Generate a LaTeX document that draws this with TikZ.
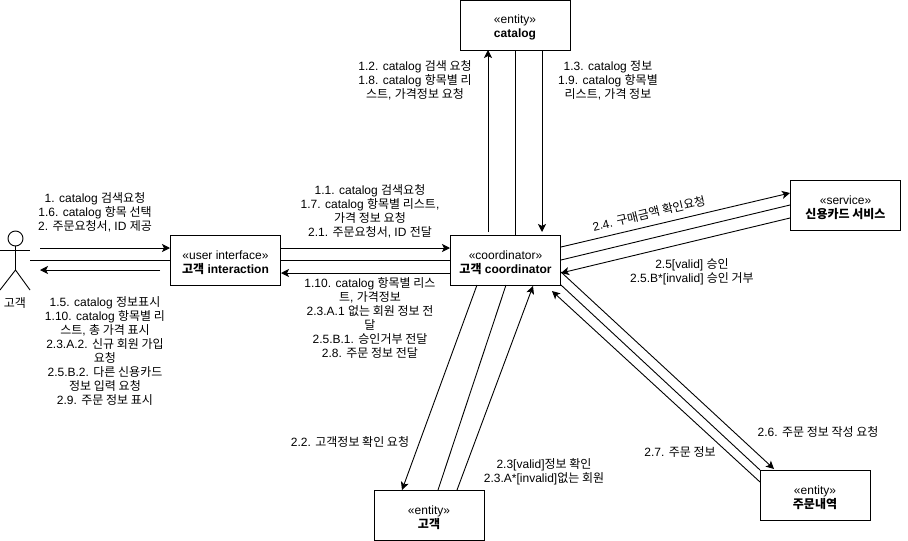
\documentclass[tikz,border=0pt]{standalone}
\usepackage{fontspec}
\setmainfont{Liberation Sans}
\newfontfamily\cjk{Noto Sans CJK KR}
\newcommand{\kr}[1]{{\cjk #1}}
\newcommand{\stereo}[1]{\rule{0pt}{14pt}«#1»}
\usetikzlibrary{arrows.meta}
\tikzset{
	box/.style={draw,minimum width=110pt,minimum height=50pt,inner sep=0pt,outer sep=0pt,align=center,font=\fontsize{12}{14}\selectfont},
	msg/.style={align=center,inner sep=0pt,yshift=-1.5pt,font=\fontsize{12}{14}\selectfont},
	call/.style={-{Stealth[length=8pt,width=8pt,inset=2pt]}},
}

\begin{document}
\begin{tikzpicture}[x=1pt,y=-1pt,line width=.9pt]
	\useasboundingbox (0,0) rectangle (908,541);
	% boxes
	\node [box] (catalog) at (515,25) {\stereo{entity}\\\textbf{catalog}};
	\node [box] (ui) at (225.5,260) {\stereo{user interface}\\\textbf{\kr{고객} interaction}};
	\node [box] (coord) at (505.5,260) {\stereo{coordinator}\\\textbf{\kr{고객} coordinator}};
	\node [box] (card) at (845.5,205) {\stereo{service}\\\textbf{\kr{신용카드 서비스}}};
	\node [box] (member) at (429,515) {\stereo{entity}\\\textbf{\kr{고객}}};
	\node [box] (order) at (815,495) {\stereo{entity}\\\textbf{\kr{주문내역}}};
	
	% actor
	\node [circle,draw,minimum size=15pt,inner sep=0pt] (head) at (15.5,238.5) {};
	\node [msg] (actor) at (15,301.5) {\kr{고객}};
	\coordinate (hand1) at (0,250);
	\coordinate (hand2) at (30,250);
	\coordinate (hip) at (15.5,270);
	\coordinate (foot1) at (0,290);
	\coordinate (foot2) at (30,290);
	\draw (head) -- (hip);
	\draw (hand1) -- (hand2);
	\draw (foot1) -- (hip) -- (foot2);
	
	% free ends of the connectors
	\foreach \n/\x/\y in {a1/40/248,a2/170/248,a3/30/260,a4/160/270,a5/40/270,
		b1/281/248,b2/450/248,b3/450/273,b4/281/273,
		c1/488/232,c2/488/50,c3/515/235,c4/542/50,c5/542/232,
		d1/561/247,d2/790/193,d3/561/260,d4/790/205,d5/790/218,d6/561/273,
		e1/561/272,e2/774/469,e3/561/285,e4/760/470,e5/760/482,e6/552/291,
		f1/477/285,f2/402/490,f3/506/285,f4/438/490,f5/457/490,f6/533/286}
	\coordinate (\n) at (\x,\y);
	
	% connectors
	\foreach \p/\q in {a1/a2,a4/a5,b1/b2,b3/b4,c1/c2,c4/c5,d1/d2,d5/d6,e1/e2,e5/e6,f1/f2,f5/f6}
	\draw [call] (\p) -- (\q);
	\foreach \p/\q in {a3/ui.west,ui.east/coord.west,c3/catalog.south,d3/d4,e3/e4,f3/f4}
	\draw (\p) -- (\q);
	
	% labels
	\node [msg] (m1) at (95,210.5) {1. catalog \kr{검색요청}\\1.6. catalog \kr{항목 선택}\\2. \kr{주문요청서}, ID \kr{제공}};
	\node [msg] (m2) at (105,350) {1.5. catalog \kr{정보표시}\\1.10. catalog \kr{항목별 리}\\\kr{스트}, \kr{총 가격 표시}\\2.3.A.2. \kr{신규 회원 가입}\\\kr{요청}\\2.5.B.2. \kr{다른 신용카드}\\\kr{정보 입력 요청}\\2.9. \kr{주문 정보 표시}};
	\node [msg] (m3) at (370,210) {1.1. catalog \kr{검색요청}\\1.7. catalog \kr{항목별 리스트},\\\kr{가격 정보 요청}\\2.1. \kr{주문요청서}, ID \kr{전달}};
	\node [msg] (m4) at (370,316) {1.10. catalog \kr{항목별 리스}\\\kr{트}, \kr{가격정보}\\2.3.A.1 \kr{없는 회원 정보 전}\\\kr{달}\\2.5.B.1. \kr{승인거부 전달}\\2.8. \kr{주문 정보 전달}};
	\node [msg] (m5) at (415,79) {1.2. catalog \kr{검색 요청}\\1.8. catalog \kr{항목별 리}\\\kr{스트}, \kr{가격정보 요청}};
	\node [msg] (m6) at (608,79) {1.3. catalog \kr{정보}\\1.9. catalog \kr{항목별}\\\kr{리스트}, \kr{가격 정보}};
	\node [msg,rotate=13.5] (m7) at (649,212) {2.4. \kr{구매금액 확인요청}};
	\node [msg] (m8) at (692,270.5) {2.5[valid] \kr{승인}\\2.5.B*[invalid] \kr{승인 거부}};
	\node [msg] (m9) at (350,440) {2.2. \kr{고객정보 확인 요청}};
	\node [msg] (m10) at (544,470) {2.3[valid]\kr{정보 확인}\\2.3.A*[invalid]\kr{없는 회원}};
	\node [msg] (m11) at (818,430) {2.6. \kr{주문 정보 작성 요청}};
	\node [msg] (m12) at (680,450) {2.7. \kr{주문 정보}};
\end{tikzpicture}
\end{document}
